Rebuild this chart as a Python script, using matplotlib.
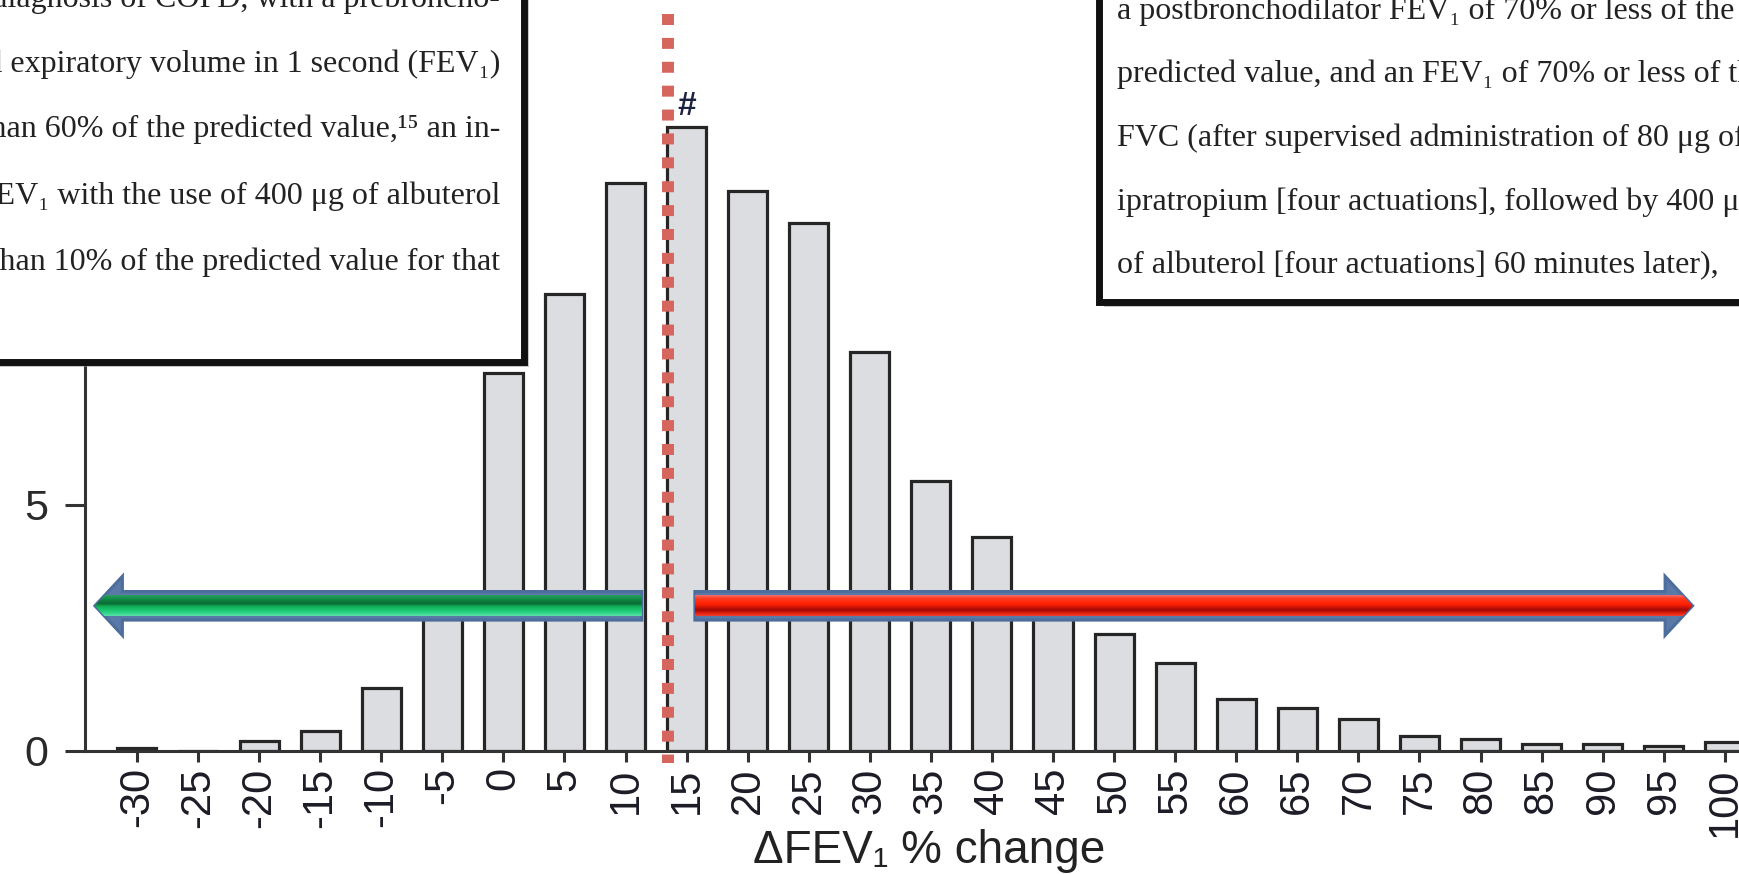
import numpy as np
import matplotlib.pyplot as plt
from matplotlib.patches import Polygon, Rectangle
from matplotlib.colors import to_rgb

# distribution of the bronchodilator response, 5-point bins of FEV1 change (%)
bins = [-30, -25, -20, -15, -10, -5, 0, 5, 10, 15, 20, 25, 30, 35, 40, 45,
        50, 55, 60, 65, 70, 75, 80, 85, 90, 95, 100]
share = [0.05, 0.0, 0.2, 0.4, 1.27, 2.9, 7.68, 9.28, 11.54, 12.67, 11.38, 10.72,
         8.1, 5.48, 4.35, 3.0, 2.37, 1.78, 1.05, 0.86, 0.65, 0.29, 0.24, 0.13,
         0.13, 0.09, 0.18]
bin_labels = [str(b) for b in bins]
y_ticks = [0, 5]
marked_bin = 15

# excerpts from the methods section pasted over the chart
left_lines = [
    "had a diagnosis of COPD, with a prebroncho-",
    "dilator forced expiratory volume in 1 second (FEV\u2081)",
    "of less than 60% of the predicted value,\u00b9\u2075 an in-",
    "crease of FEV\u2081 with the use of 400 \u03bcg of albuterol",
    "of less than 10% of the predicted value for that",
]
right_lines = [
    "a postbronchodilator FEV\u2081 of 70% or less of the",
    "predicted value, and an FEV\u2081 of 70% or less of the",
    "FVC (after supervised administration of 80 \u03bcg of",
    "ipratropium [four actuations], followed by 400 \u03bcg",
    "of albuterol [four actuations] 60 minutes later),",
]

W, H = 1739, 874
plt.rcParams['font.family'] = ['Liberation Sans', 'DejaVu Sans']
serif = ['Liberation Serif', 'DejaVu Serif']


def fx(x):
    return x / W


def fy(y):
    # y measured in pixels from the top edge
    return (H - y) / H


fig = plt.figure(figsize=(W / 100, H / 100), dpi=100)
ax = fig.add_axes([fx(85), fy(750.7), 1688.7 / W, 738 / H])

ax.bar(bins, share, width=3.2, color='#dcdde0', edgecolor='#262626',
       linewidth=2.3, zorder=2)

for side in ['top', 'right']:
    ax.spines[side].set_visible(False)
for side in ['left', 'bottom']:
    ax.spines[side].set_linewidth(2.2)
    ax.spines[side].set_color('#333333')

ax.set_xticks(bins, bin_labels, rotation=90, fontsize=30, color='#1c1c26')
ax.set_yticks(y_ticks, [str(t) for t in y_ticks], fontsize=31, color='#2a2a2a')
ax.tick_params(axis='y', length=14.4, width=2.2, pad=12, color='#333333')
ax.tick_params(axis='x', length=8, width=2.2, pad=4, color='#333333')

ax.set_xlabel('\u0394FEV\u2081 % change', fontsize=33, color='#222222')
ax.xaxis.set_label_coords(0.4998, -0.1515)
ax.xaxis.label.set_verticalalignment('baseline')

# hash mark above the tallest bin
i = bins.index(marked_bin)
ax.text(marked_bin, share[i] + 0.26, '#', ha='center', va='baseline',
        fontsize=24, fontweight='bold', color='#1c2340', zorder=5)

# responder threshold (dotted red line along the left edge of the 15 bin)
thr = marked_bin - 1.55
ax.plot([thr, thr], [14.98, -0.25], color='#d5655d', lw=8.6,
        ls=(0, (0.92, 1.08)), dash_capstyle='butt', clip_on=False, zorder=4)


def block_arrow(x_tail, x_tip, yc, pos, cols):
    d = np.sign(x_tip - x_tail)
    sh, hh, hl = 0.29, 0.6, 2.25
    xb = x_tip - d * hl
    verts = [(x_tail, yc - sh), (xb, yc - sh), (xb, yc - hh), (x_tip, yc),
             (xb, yc + hh), (xb, yc + sh), (x_tail, yc + sh)]
    poly = Polygon(verts, closed=True, facecolor='#5b79a6',
                   edgecolor='#4d6d9c', lw=2.2, joinstyle='miter', zorder=5)
    ax.add_patch(poly)
    # vertical shading of the shaft, listed top to bottom
    rgb = np.array([to_rgb(c) for c in cols])
    t = np.linspace(0, 1, 64)
    grad = np.stack([np.interp(t, pos, rgb[:, k]) for k in range(3)], axis=1)
    grad = grad[::-1][:, None, :]
    im = ax.imshow(grad, extent=[min(x_tail, x_tip), max(x_tail, x_tip),
                                 yc - 0.21, yc + 0.21],
                   origin='lower', aspect='auto', interpolation='bilinear',
                   zorder=6)
    im.set_clip_path(poly)


block_arrow(11.34, -33.44, 2.945,
            [0, 0.2, 0.4, 0.55, 0.8, 1.0],
            ['#2aa060', '#0f8a45', '#0a6a32', '#12b058', '#22d07a', '#5ae0a8'])
block_arrow(15.68, 97.36, 2.945,
            [0, 0.15, 0.45, 0.62, 0.72, 0.85, 1.0],
            ['#f07070', '#ff3a20', '#ff2000', '#c01008', '#a00a05',
             '#e01a0a', '#f04030'])

ax.set_xlim(-34.25, 104)
ax.set_ylim(0, 15)


def text_panel(x0, y0, x1, y1):
    shadow = Rectangle((fx(x0 + 5), fy(y1 + 5)), fx(x1 - x0), (y1 - y0) / H,
                       transform=fig.transFigure, facecolor='#9a9a9a',
                       edgecolor='none', alpha=0.55, zorder=9)
    box = Rectangle((fx(x0), fy(y1)), fx(x1 - x0), (y1 - y0) / H,
                    transform=fig.transFigure, facecolor='white',
                    edgecolor='#111111', lw=5, zorder=10)
    fig.add_artist(shadow)
    fig.add_artist(box)


text_panel(-40, -40, 523.5, 361.5)
text_panel(1099, -40, 1800, 301.5)

for line, yb in zip(left_lines, [7, 72, 137, 204, 270]):
    fig.text(fx(500), fy(yb), line, ha='right', va='baseline', fontsize=23,
             family=serif, color='#222222', zorder=11)
for line, yb in zip(right_lines, [19, 82, 146, 210, 273]):
    fig.text(fx(1117), fy(yb), line, ha='left', va='baseline', fontsize=23,
             family=serif, color='#222222', zorder=11)

fig.savefig('out.png', dpi=100)
